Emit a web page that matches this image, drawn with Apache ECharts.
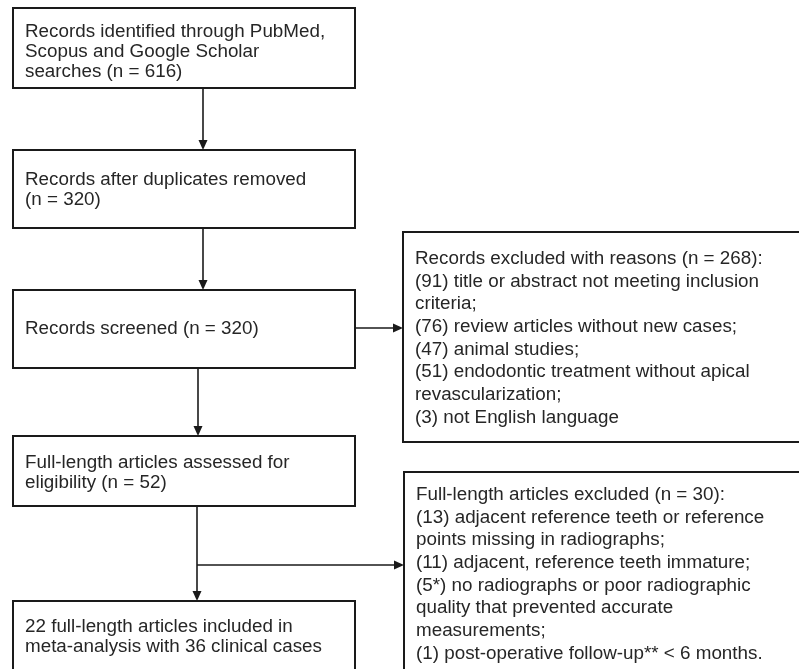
<!DOCTYPE html>
<html>
<head>
<meta charset="utf-8">
<script src="https://cdn.jsdelivr.net/npm/echarts@6/dist/echarts.min.js"></script>
<style>
  html, body { margin: 0; padding: 0; background: #fff; }
  #chart { width: 799px; height: 669px; }
</style>
</head>
<body>
<div id="chart"></div>
<script>
// counts shown in the flow
const identifiedCount = 616
const afterDupCount = 320
const screenedCount = 320
const eligibleCount = 52
const includedArticles = 22
const includedCases = 36

const screenExcluded = 268
const screenReasonCounts = [91, 76, 47, 51, 3]
const screenReasonText = [
  'title or abstract not meeting inclusion\ncriteria;',
  'review articles without new cases;',
  'animal studies;',
  'endodontic treatment without apical\nrevascularization;',
  'not English language'
]

const fullExcluded = 30
const fullReasonCounts = ['13', '11', '5*', '1']
const fullReasonText = [
  'adjacent reference teeth or reference\npoints missing in radiographs;',
  'adjacent, reference teeth immature;',
  'no radiographs or poor radiographic\nquality that prevented accurate\nmeasurements;',
  'post-operative follow-up** < 6 months.'
]

function reasonLines(head, counts, texts) {
  let out = [head]
  counts.forEach((c, i) => {
    out = out.concat(('(' + c + ') ' + texts[i]).split('\n'))
  })
  return out
}

// boxes: left/top/right/bottom, text start, line gap
const boxes = [
  { l: 13, t: 8, r: 355, b: 88, tx: 25, ty: 32, gap: 20,
    lines: ['Records identified through PubMed,', 'Scopus and Google Scholar', 'searches (n = ' + identifiedCount + ')'] },
  { l: 13, t: 150, r: 355, b: 228, tx: 25, ty: 180, gap: 20,
    lines: ['Records after duplicates removed', '(n = ' + afterDupCount + ')'] },
  { l: 13, t: 290, r: 355, b: 368, tx: 25, ty: 329, gap: 20,
    lines: ['Records screened (n = ' + screenedCount + ')'] },
  { l: 13, t: 436, r: 355, b: 506, tx: 25, ty: 463, gap: 20,
    lines: ['Full-length articles assessed for', 'eligibility (n = ' + eligibleCount + ')'] },
  { l: 13, t: 601, r: 355, b: 690, tx: 25, ty: 627, gap: 20,
    lines: [includedArticles + ' full-length articles included in', 'meta-analysis with ' + includedCases + ' clinical cases'] },
  { l: 403, t: 232, r: 820, b: 442, tx: 415, ty: 259, gap: 22.7,
    lines: reasonLines('Records excluded with reasons (n = ' + screenExcluded + '):', screenReasonCounts, screenReasonText) },
  { l: 404, t: 472, r: 820, b: 700, tx: 416, ty: 495, gap: 22.7,
    lines: reasonLines('Full-length articles excluded (n = ' + fullExcluded + '):', fullReasonCounts, fullReasonText) }
]

// arrows: [x1, y1, x2, y2]
const arrows = [
  [203, 88, 203, 150],
  [203, 228, 203, 290],
  [198, 368, 198, 436],
  [197, 506, 197, 601],
  [355, 328, 403, 328],
  [197, 565, 404, 565]
]

const INK = '#1a1a1a'
const graphics = []

boxes.forEach(b => {
  graphics.push({
    type: 'rect',
    shape: { x: b.l, y: b.t, width: b.r - b.l, height: b.b - b.t },
    style: { fill: '#fff', stroke: INK, lineWidth: 2 }
  })
  b.lines.forEach((line, i) => {
    graphics.push({
      type: 'text',
      x: b.tx,
      y: b.ty + i * b.gap,
      scaleX: 1.075,
      style: {
        text: line,
        x: 0,
        y: 0,
        verticalAlign: 'middle',
        font: '17.5px "Liberation Sans", Arial, sans-serif',
        fill: '#262626'
      }
    })
  })
})

arrows.forEach(a => {
  const [x1, y1, x2, y2] = a
  const vert = x1 === x2
  const hs = 9, hw = 4.5
  graphics.push({
    type: 'line',
    shape: vert ? { x1, y1, x2, y2: y2 - hs } : { x1, y1, x2: x2 - hs, y2 },
    style: { stroke: INK, lineWidth: 1.6 }
  })
  const pts = vert
    ? [[x2 - hw, y2 - hs - 1], [x2 + hw, y2 - hs - 1], [x2, y2]]
    : [[x2 - hs - 1, y2 - hw], [x2 - hs - 1, y2 + hw], [x2, y2]]
  graphics.push({
    type: 'polygon',
    shape: { points: pts },
    style: { fill: INK }
  })
})

const chart = echarts.init(document.getElementById('chart'))
chart.setOption({
  backgroundColor: '#fff',
  animation: false,
  graphic: { elements: graphics }
})
</script>
</body>
</html>
